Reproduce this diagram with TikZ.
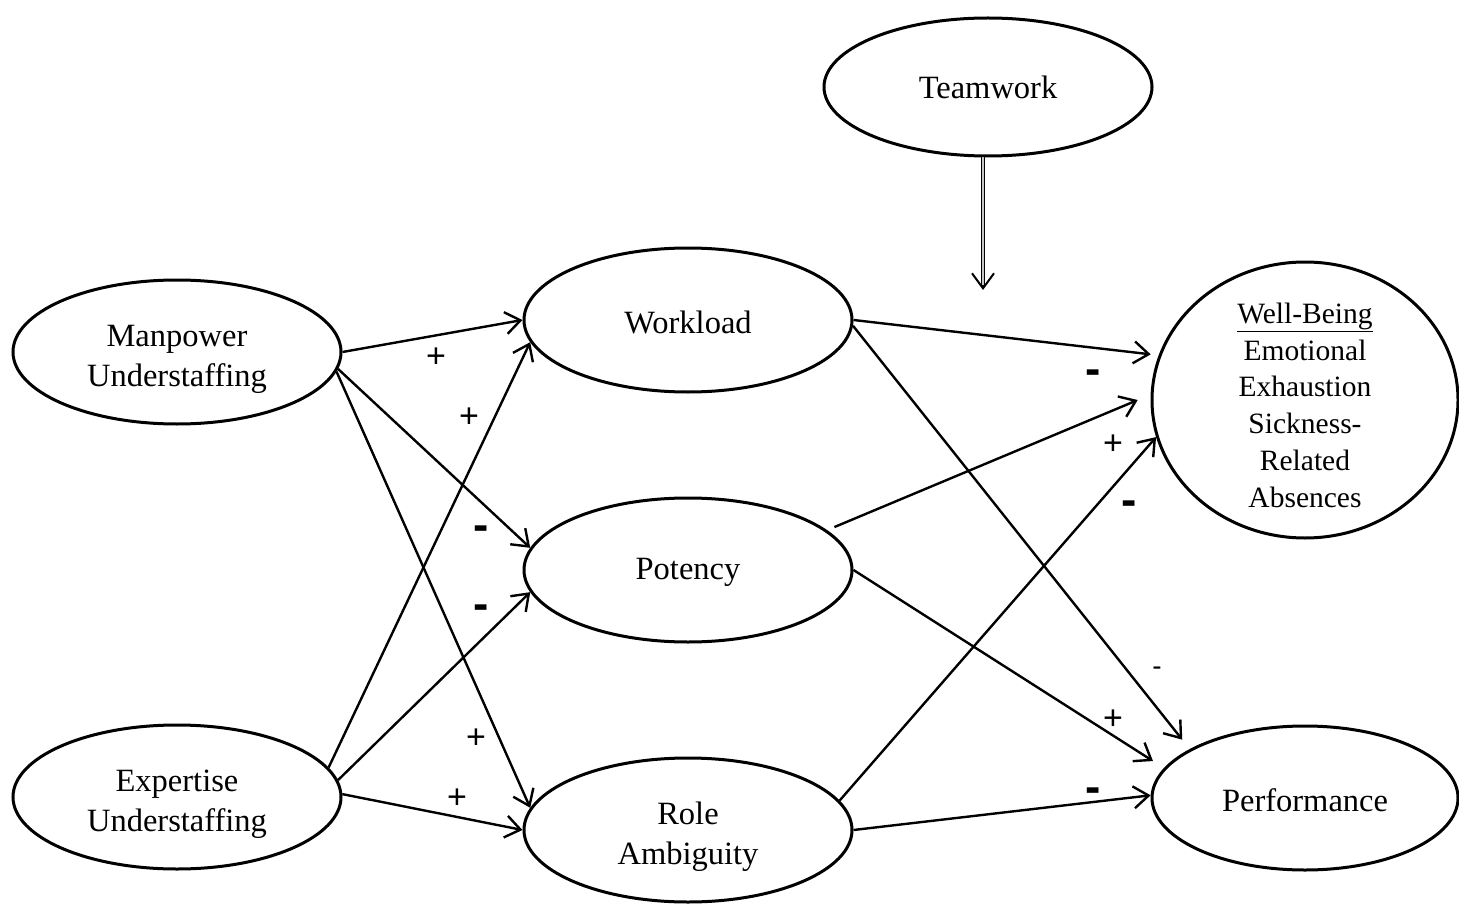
\documentclass[tikz,border=0pt]{standalone}
\usepackage{fontspec}
\setmainfont{Liberation Serif}
\newfontfamily\signfont{Liberation Sans}
\usetikzlibrary{shapes.geometric,arrows.meta}
% extra room above the first line, to sit the text a little lower
\newcommand\headroom[1]{\rule{0pt}{#1}}

\begin{document}
\begin{tikzpicture}[x=1pt,y=-1pt,
  construct/.style={ellipse,draw,line width=3pt,minimum width=328pt,
    minimum height=144pt,inner sep=0pt,align=center,
    font=\fontsize{32.5}{40}\selectfont},
  link/.style={line width=2.4pt,-{Straight Barb[length=15pt,width=22pt]}},
  plussign/.style={font=\signfont\fontsize{34}{34}\selectfont,inner sep=0pt},
  minussign/.style={font=\signfont\bfseries\fontsize{46}{46}\selectfont,inner sep=0pt},
  minorsign/.style={font=\signfont\fontsize{28}{28}\selectfont,inner sep=0pt}]

\useasboundingbox (0,0) rectangle (1459,904);

% constructs
\node[construct] (man)  at (177,352) {\headroom{36pt}Manpower\\Understaffing};
\node[construct] (exp)  at (177,797) {\headroom{36pt}Expertise\\Understaffing};
\node[construct] (work) at (688,320) {\headroom{27pt}Workload};
\node[construct] (pot)  at (688,570) {\headroom{27pt}Potency};
\node[construct] (role) at (688,830) {\headroom{36pt}Role\\Ambiguity};
\node[construct,minimum height=138pt] (tw) at (988,87) {Teamwork};
\node[construct,minimum width=306pt,minimum height=276pt,inner ysep=-22pt,
      font=\fontsize{29.5}{36.8}\selectfont] (wb) at (1305,400)
  {\headroom{31pt}\underline{Well-Being}\\Emotional\\Exhaustion\\Sickness-\\Related\\Absences};
\node[construct,minimum width=306pt] (perf) at (1305,798) {\headroom{27pt}Performance};

% paths from the understaffing constructs
\draw[link] (man.0)    -- (work.180);
\draw[link] (man.-6.4) -- (pot.172.1);
\draw[link] (man.-7.4) -- (role.172.4);
\draw[link] (exp.11.2) -- (work.-172);
\draw[link] (exp.6.7)  -- (pot.-172.4);
\draw[link] (exp.1.4)  -- (role.180);

% paths to the outcomes
\draw[link,shorten >=8pt]  (work.0)    -- (wb.163.3);
\draw[link,shorten >=12pt] (work.-2.4) -- (perf.157.4);
\draw[link,shorten <=8pt,shorten >=14pt] (pot.16.3) -- (wb.178.6);
\draw[link,shorten >=13pt] (pot.0)     -- (perf.168.2);
\draw[link] (role.11.3) -- (wb.-166);
\draw[link] (role.0)    -- (perf.179);

% moderator arrow from teamwork
\coordinate (modtip) at (983,290);
\draw[link,line width=2pt] (tw.south -| modtip) -- (modtip);
\draw[double=gray!45,double distance=1.6pt,line width=1.1pt,shorten >=5pt]
  (tw.south -| modtip) -- (modtip);

% signs
\node[plussign]  (s1)  at (436,358) {+};
\node[plussign]  (s2)  at (469,418) {+};
\node[minussign] (s3)  at (481,533) {-};
\node[minussign] (s4)  at (481,612) {-};
\node[plussign]  (s5)  at (476,739) {+};
\node[plussign]  (s6)  at (457,799) {+};
\node[minussign] (s7)  at (1093,377) {-};
\node[plussign]  (s8)  at (1113,445) {+};
\node[minussign] (s9)  at (1129,508) {-};
\node[minorsign] (s10) at (1157,671) {-};
\node[plussign]  (s11) at (1113,720) {+};
\node[minussign] (s12) at (1093,795) {-};
\end{tikzpicture}
\end{document}
